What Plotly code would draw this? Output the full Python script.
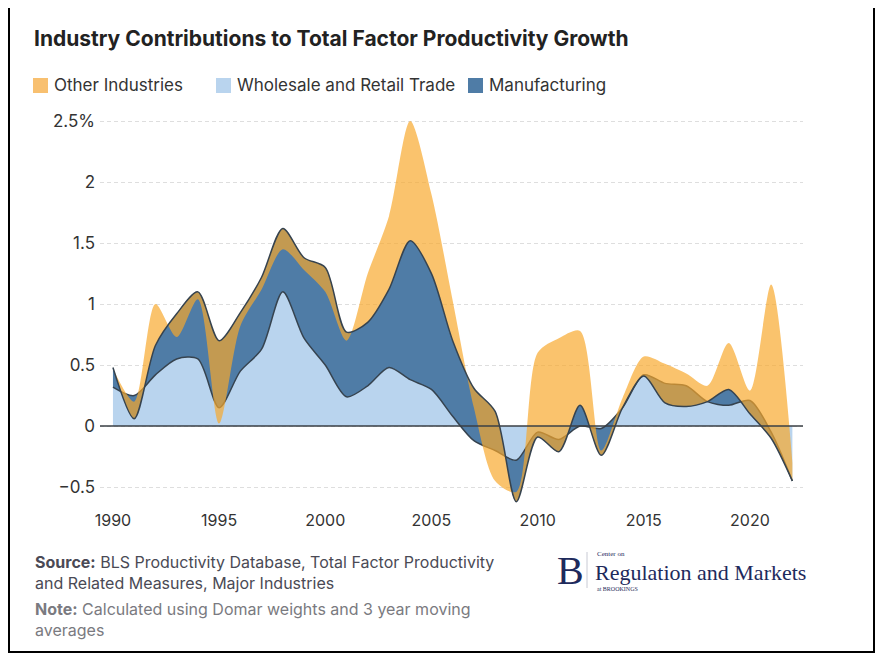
import plotly.graph_objects as go

# ---------------- data ----------------
years = list(range(1990, 2023))
wholesale = [0.32, 0.25, 0.42, 0.55, 0.55, 0.15, 0.45, 0.63, 1.10, 0.72,
             0.50, 0.24, 0.33, 0.48, 0.38, 0.30, 0.08, -0.12, -0.20, -0.28,
             -0.05, -0.11, 0.00, -0.02, 0.15, 0.42, 0.35, 0.33, 0.20, 0.17,
             0.21, -0.05, -0.45]
manufacturing = [0.16, -0.19, 0.24, 0.37, 0.55, 0.55, 0.48, 0.59, 0.52, 0.66,
                 0.80, 0.53, 0.52, 0.64, 1.14, 0.95, 0.62, 0.43, 0.32, -0.34,
                 -0.04, -0.10, 0.17, -0.22, 0.00, -0.01, -0.16, -0.17, 0.00, 0.13,
                 -0.11, -0.05, 0.00]
other = [-0.01, 0.14, 0.34, -0.19, -0.06, -0.68, -0.11, -0.10, -0.17, -0.10,
         -0.20, -0.07, 0.40, 0.60, 0.98, 0.65, 0.33, -0.16, -0.57, 0.08,
         0.69, 0.93, 0.61, 0.04, 0.08, 0.16, 0.32, 0.27, 0.13, 0.38,
         0.19, 1.26, 0.15]
series_names = ["Other Industries", "Wholesale and Retail Trade", "Manufacturing"]
x_ticks = [1990, 1995, 2000, 2005, 2010, 2015, 2020]
y_ticks = [-0.5, 0, 0.5, 1, 1.5, 2, 2.5]
y_ticktext = ["\u22120.5", "0", "0.5", "1", "1.5", "2", "2.5%"]

# ---------------- style ----------------
C_LIGHT = "#b9d4ee"
C_DARK = "#4f7ca6"
C_ORANGE_FILL = "rgba(248,168,44,0.69)"
C_ORANGE_KEY = "#f8c070"
C_LINE = "#36434f"
FONT = "Inter, Lato, Roboto, sans-serif"

OFF = 8                      # page body margin
W, H = 884 - OFF, 661 - OFF
L, R = 100 - OFF, 803 - OFF   # plot area in figure px
T, B = 115 - OFF, 509 - OFF


def px(x):  # x given in screen px
    return (x - OFF - L) / (R - L)


def py(y):  # y given in screen px
    return (B - (y - OFF)) / (B - T)


fig = go.Figure()
fig.add_trace(go.Scatter(
    x=years, y=wholesale, name=series_names[1], stackgroup="s",
    mode="lines", line=dict(color=C_LINE, width=1.5, shape="spline", smoothing=0.8),
    fillcolor=C_LIGHT, showlegend=False, hoverinfo="skip"))
fig.add_trace(go.Scatter(
    x=years, y=manufacturing, name=series_names[2], stackgroup="s",
    mode="lines", line=dict(color=C_LINE, width=1.5, shape="spline", smoothing=0.8),
    fillcolor=C_DARK, showlegend=False, hoverinfo="skip"))
fig.add_trace(go.Scatter(
    x=years, y=other, name=series_names[0], stackgroup="s",
    mode="lines", line=dict(color="rgba(0,0,0,0)", width=0, shape="spline", smoothing=0.8),
    fillcolor=C_ORANGE_FILL, showlegend=False, hoverinfo="skip"))

shapes = []
annotations = []

# zero line on top
shapes.append(dict(type="line", xref="paper", yref="y", x0=0, x1=1, y0=0, y1=0,
                   line=dict(color="#3a3f45", width=1.5), layer="above"))

# outer frame
shapes.append(dict(type="rect", xref="paper", yref="paper",
                   x0=px(9), x1=px(874), y0=py(652), y1=py(3),
                   line=dict(color="black", width=2), layer="above"))

# title
annotations.append(dict(text="<b>Industry Contributions to Total Factor Productivity Growth</b>",
                        xref="paper", yref="paper", x=px(32), y=py(38),
                        xanchor="left", yanchor="middle", showarrow=False,
                        font=dict(family=FONT, size=21, color="#222")))

# legend
key_colors = [C_ORANGE_KEY, C_LIGHT, C_DARK]
key_x = [33, 216, 468]
text_x = [52, 235, 487]
for name, col, kx, tx in zip(series_names, key_colors, key_x, text_x):
    shapes.append(dict(type="rect", xref="paper", yref="paper",
                       x0=px(kx), x1=px(kx + 15), y0=py(93), y1=py(78),
                       line=dict(width=0), fillcolor=col))
    annotations.append(dict(text=name, xref="paper", yref="paper", x=px(tx), y=py(85),
                            xanchor="left", yanchor="middle", showarrow=False,
                            font=dict(family=FONT, size=17, color="#333")))

# footer
foot = [
    ("<b>Source:</b> BLS Productivity Database, Total Factor Productivity", 562, "#4a4a55"),
    ("and Related Measures, Major Industries", 583, "#4a4a55"),
    ("<b>Note:</b> Calculated using Domar weights and 3 year moving", 609, "#7a7a80"),
    ("averages", 630, "#7a7a80"),
]
for t, y, c in foot:
    annotations.append(dict(text=t, xref="paper", yref="paper", x=px(33), y=py(y),
                            xanchor="left", yanchor="middle", showarrow=False,
                            font=dict(family=FONT, size=16, color=c)))

# logo
NAVY = "#1e2a5c"
SERIF = "Liberation Serif, DejaVu Serif, serif"
annotations.append(dict(text="B", xref="paper", yref="paper", x=px(555), y=py(570),
                        xanchor="left", yanchor="middle", showarrow=False,
                        font=dict(family=SERIF, size=40, color=NAVY)))
shapes.append(dict(type="line", xref="paper", yref="paper", x0=px(587), x1=px(587),
                   y0=py(588), y1=py(552), line=dict(color="#c8cad4", width=1)))
annotations.append(dict(text="Center on", xref="paper", yref="paper", x=px(595), y=py(554),
                        xanchor="left", yanchor="middle", showarrow=False,
                        font=dict(family=SERIF, size=7, color=NAVY)))
annotations.append(dict(text="Regulation and Markets", xref="paper", yref="paper",
                        x=px(593), y=py(572), xanchor="left", yanchor="middle",
                        showarrow=False, font=dict(family=SERIF, size=22, color=NAVY)))
annotations.append(dict(text="at BROOKINGS", xref="paper", yref="paper", x=px(595), y=py(589),
                        xanchor="left", yanchor="middle", showarrow=False,
                        font=dict(family=SERIF, size=6, color=NAVY)))

fig.update_layout(
    width=W, height=H,
    margin=dict(l=L, r=W - R, t=T, b=H - B, pad=0),
    paper_bgcolor="white", plot_bgcolor="white",
    showlegend=False,
    shapes=shapes, annotations=annotations,
    font=dict(family=FONT, color="#333"),
)
fig.update_xaxes(range=[1989.39, 2022.5], tickvals=x_ticks, showgrid=False,
                 zeroline=False, showline=False, ticks="",
                 tickfont=dict(family=FONT, size=16, color="#333"))
fig.update_yaxes(range=[-0.68, 2.55], tickvals=y_ticks, ticktext=y_ticktext,
                 showgrid=True, gridcolor="#dedede", griddash="4px,3px", gridwidth=1,
                 zeroline=False, showline=False, ticks="", ticklabelstandoff=4,
                 tickfont=dict(family=FONT, size=17, color="#333"))

fig.write_html("out.html")
